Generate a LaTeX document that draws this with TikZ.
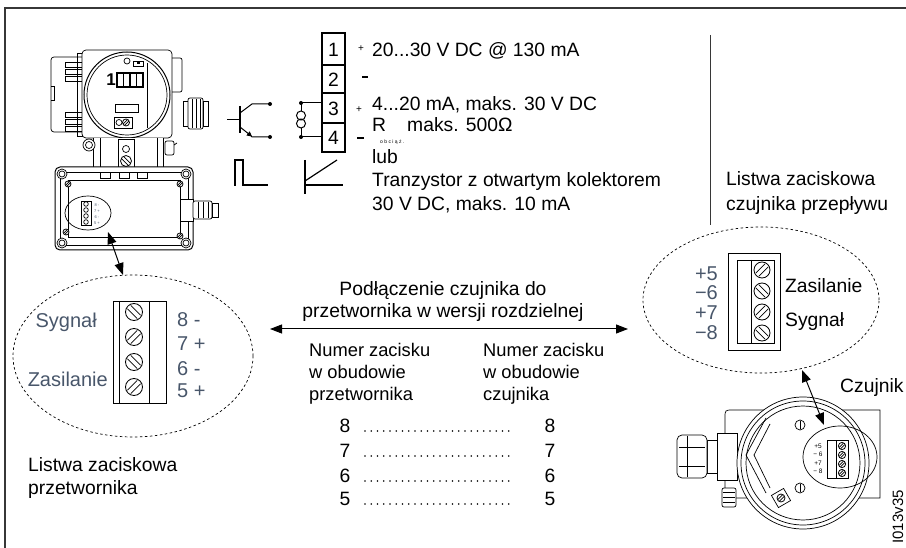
\documentclass[tikz,border=0pt]{standalone}
\usepackage{fontspec}
\setmainfont{Liberation Sans}
\usetikzlibrary{arrows.meta}
\definecolor{slate}{RGB}{72,86,106}
\definecolor{framegray}{RGB}{55,55,55}

\tikzset{
  txt/.style={font=\fontsize{19.3}{22}\selectfont, inner sep=0pt},
  sml/.style={font=\fontsize{18.3}{21}\selectfont, inner sep=0pt},
  slab/.style={font=\fontsize{20}{23}\selectfont, inner sep=0pt, text=slate},
  dev/.style={line width=0.7pt, draw=black},
  sym/.style={line width=2.3pt},
  dashell/.style={dash pattern=on 2.5pt off 2.5pt, line width=0.7pt},
  dblarrow/.style={line width=1pt, {Triangle[length=12pt,width=9pt]}-{Triangle[length=12pt,width=9pt]}},
  leader/.style={line width=1.7pt, dash pattern=on 0pt off 6.25pt, line cap=round},
  pics/screwfw/.style={code={
    \draw[line width=0.8pt, fill=white] (0,0) circle[radius=#1 pt];
    \draw[line width=0.7pt] ({-0.78*#1},{0.38*#1}) -- ({0.38*#1},{-0.78*#1});
    \draw[line width=0.7pt] ({-0.38*#1},{0.78*#1}) -- ({0.78*#1},{-0.38*#1});
  }},
  pics/screwbk/.style={code={
    \draw[line width=0.8pt, fill=white] (0,0) circle[radius=#1 pt];
    \draw[line width=0.7pt] ({0.78*#1},{0.38*#1}) -- ({-0.38*#1},{-0.78*#1});
    \draw[line width=0.7pt] ({0.38*#1},{0.78*#1}) -- ({-0.78*#1},{-0.38*#1});
  }}
}

\begin{document}
\begin{tikzpicture}[x=1pt,y=-1pt]
\useasboundingbox (0,0) rectangle (906,548);

% page frame and separator
\draw[line width=1.2pt, framegray] (5,548) -- (5,8) -- (906,8);
\draw[line width=1pt, framegray] (710,35) -- (710,225);

% ---------------- transmitter (upper housing) ----------------
\draw[dev, rounded corners=3pt] (82,57) -- (51,57) -- (51,132) -- (82,132);
\draw[dev] (51,86) -- (54,86) -- (54,100) -- (51,100);
\foreach \y in {62,69,76,112,119,126} \draw[dev] (65,\y) rectangle (82,\y+5);
\draw[dev] (77,53) rectangle (82,136);
\draw[dev, rounded corners=4pt, fill=white] (82,50) rectangle (172,138);
\draw[dev, line width=1pt] (127,95) circle[radius=43pt];
\draw[dev] (127,95) circle[radius=40pt];
\draw[dev] (147,63) -- (147,128);
\node[font=\fontsize{17}{17}\bfseries\selectfont, inner sep=0pt] (disp) at (111,80) {1};
\foreach \i in {0,...,3} \draw[line width=1.3pt] (117+\i*6.5,73) rectangle (123.5+\i*6.5,87);
\draw[dev] (127,61) circle[radius=3pt];
\draw[dev] (133,61) rectangle (143,66);
\fill (137,62) rectangle (140,64.5);
\draw[dev] (115,104) rectangle (138,112);
\draw[dev] (114,117) rectangle (132,128);
\draw[dev] (119,122.5) circle[radius=3pt];
\pic at (126,122.5) {screwfw=3.5};
\draw[dev, rounded corners=2pt] (172,58) -- (182,58) -- (182,92) -- (172,92);
% cable gland of the upper housing
\draw[dev, fill=white] (183,101) rectangle (188,126);
\draw[dev, fill=white, rounded corners=2pt] (188,98) rectangle (203,129);
\foreach \x in {192,196,200} \draw[dev] (\x,99) -- (\x,128);
\draw[dev, fill=white] (203,101) rectangle (208,126);
% neck
\draw[dev, fill=white] (93,138) -- (93,167) -- (163,167) -- (163,138);
\draw[dev] (100,138) -- (100,167);
\draw[dev] (157,138) -- (157,167);
\draw[dev, fill=white] (89,145) circle[radius=6pt];
\draw[dev] (89,145) circle[radius=3.5pt];
\draw[dev, rounded corners=2pt] (165,141) rectangle (174,155);
\draw[dev] (174,145) -- (177,143);
\draw[dev, fill=white] (118,139) rectangle (134,170);
\draw[dev] (126,149) circle[radius=3.5pt];
\pic at (126,161) {screwbk=5.5};

% ---------------- transmitter (terminal box) ----------------
\draw[dev, line width=1pt, rounded corners=5pt, fill=white] (55,167) rectangle (193,250);
\draw[dev] (60,172) rectangle (188,245);
\draw[dev] (68,180) rectangle (180,237);
\foreach \x in {100,119,137} \draw[dev, fill=white] (\x,172) rectangle (\x+10,178);
\foreach \p in {(62,174),(186,174),(62,243),(186,243)} {
  \draw[dev, fill=white] \p circle[radius=5pt];
  \draw[dev] \p circle[radius=3pt];
}
\pic at (68,184) {screwfw=3};
\pic at (180,184) {screwfw=3};
\pic at (66,232) {screwfw=3};
\pic at (180,236) {screwfw=3};
\draw[dev, fill=white] (180,199) rectangle (193,221);
\draw[dev, fill=white, rounded corners=2pt] (193,201) rectangle (212,219);
\foreach \x in {198,203,208} \draw[dev] (\x,202) -- (\x,218);
\draw[dev, fill=white] (212,203) rectangle (218,217);
% small terminal strip inside the box
\draw[dev] (88,213) ellipse[x radius=23pt, y radius=17pt];
\draw[dev] (81,201) rectangle (91,225);
\foreach \y in {204,210,216,222} \draw[dev] (86,\y) circle[radius=2.3pt];
\foreach \y/\t in {205/8 -,211/7 +,217/6 -,223/5 +}
  \node[font=\fontsize{4}{4}\selectfont, inner sep=0pt, text=slate] at (97,\y) {\t};

% ---------------- output symbols ----------------
\coordinate (tb) at (227,120);
\coordinate (tk) at (240,120);
\coordinate (tc) at (270,104);
\coordinate (te) at (270,137);
\draw[line width=1pt] (tb) -- (tk);
\draw[line width=2pt] (240,106) -- (240,133);
\draw[line width=1pt] (240,113) -- (252,104) -- (tc);
\draw[line width=1pt, -{Triangle[length=5pt,width=5pt]}] (240,127) -- (252,136.5);
\draw[line width=1pt] (251,136) -- (252,137) -- (te);
\fill (tc) circle[radius=2pt];
\fill (te) circle[radius=2pt];

% current source
\coordinate (cs1) at (301,103);
\coordinate (cs2) at (301,137);
\draw[line width=1pt] (cs1) -- (301,111);
\draw[line width=1pt] (301,128) -- (cs2);
\draw[line width=1pt] (301,115.5) circle[radius=4.5pt];
\draw[line width=1pt] (301,123.5) circle[radius=4.5pt];
\fill (cs1) circle[radius=2pt];
\fill (cs2) circle[radius=2pt];

% pulse and analog marks
\draw[sym] (235,186) -- (235,160) -- (243,160) -- (243,185) -- (268,185);
\draw[sym] (305,160) -- (305,194);
\draw[sym] (305,185) -- (343,185);
\draw[line width=1.2pt] (305,181) -- (337,160);

% ---------------- terminal block 1..4 ----------------
\draw[line width=2.5pt] (322,33) rectangle (345,152);
\foreach \y in {65,93,123} \draw[line width=2.5pt] (322,\y) -- (345,\y);
\node[txt] (t1) at (333.5,49.5) {1};
\node[txt] (t2) at (333.5,79.5) {2};
\node[txt] (t3) at (333.5,108.5) {3};
\node[txt] (t4) at (333.5,138) {4};
\draw[line width=1pt] (cs1) -- (322,103);
\draw[line width=1pt] (cs2) -- (322,137);

\node[font=\fontsize{10}{10}\selectfont, inner sep=0pt] (p1) at (361,49) {+};
\node[font=\fontsize{10}{10}\selectfont, inner sep=0pt] (p3) at (359,110) {+};
\draw[line width=2pt] (362,77) -- (368,77);
\draw[line width=2pt] (357,138) -- (364,138);

\node[txt, anchor=base west] (l1) at (372,57) {20...30 V DC @ 130 mA};
\node[txt, anchor=base west] (l3) at (372,111) {4...20 mA, maks. 30 V DC};
\node[txt, anchor=base west] (l4) at (372,132) {R};
\node[font=\fontsize{5}{5}\selectfont, inner sep=0pt, anchor=base west] (l4s) at (380,144) {o b c i ą ż .};
\node[txt, anchor=base west] (l4b) at (407,132) {maks. 500Ω};
\node[txt, anchor=base west] (l5) at (372,164) {lub};
\node[txt, anchor=base west] (l6) at (372,187) {Tranzystor z otwartym kolektorem};
\node[txt, anchor=base west] (l7) at (372,211) {30 V DC, maks. 10 mA};

\node[txt, anchor=base west] (r1) at (726,186) {Listwa zaciskowa};
\node[txt, anchor=base west] (r2) at (726,211) {czujnika przepływu};

% ---------------- transmitter terminal strip (zoomed) ----------------
\draw[dashell] (133,356) ellipse[x radius=120pt, y radius=81pt];
\coordinate (la1) at (108,232);
\coordinate (la2) at (123,275);
\draw[dblarrow] (la1) -- (la2);
\draw[line width=0.8pt] (113,301) rectangle (166,403);
\draw[line width=0.8pt] (119,301) -- (119,403);
\draw[line width=0.8pt] (149,301) -- (149,403);
\pic at (134,312) {screwbk=8.5};
\pic at (134,337) {screwfw=8.5};
\pic at (134,362) {screwbk=8.5};
\pic at (134,387) {screwfw=8.5};
\node[slab, anchor=base west] (n8) at (177,327) {8 -};
\node[slab, anchor=base west] (n7) at (177,351) {7 +};
\node[slab, anchor=base west] (n6) at (177,375) {6 -};
\node[slab, anchor=base west] (n5) at (177,398) {5 +};
\node[slab, anchor=base east] (sy1) at (97,328) {Sygnał};
\node[slab, anchor=base east] (za1) at (108,386) {Zasilanie};
\node[txt, anchor=base west] (lz1) at (28,471) {Listwa zaciskowa};
\node[txt, anchor=base west] (lz2) at (28,494) {przetwornika};

% ---------------- wiring table ----------------
\node[txt, anchor=base] (h1) at (443,296) {Podłączenie czujnika do};
\node[txt, anchor=base] (h2) at (443,318) {przetwornika w wersji rozdzielnej};
\coordinate (cL) at (270,329);
\coordinate (cR) at (628,329);
\draw[dblarrow] (cL) -- (cR);
\node[sml, anchor=base west] (a1) at (309,357) {Numer zacisku};
\node[sml, anchor=base west] (a2) at (309,378) {w obudowie};
\node[sml, anchor=base west] (a3) at (309,400) {przetwornika};
\node[sml, anchor=base west] (b1) at (483,357) {Numer zacisku};
\node[sml, anchor=base west] (b2) at (483,378) {w obudowie};
\node[sml, anchor=base west] (b3) at (483,400) {czujnika};
\foreach \n/\y in {8/432,7/457,6/482,5/505} {
  \node[txt, anchor=base] (w\n) at (345,\y) {\n};
  \node[txt, anchor=base] (s\n) at (550,\y) {\n};
  \draw[leader] (365,\y-1) -- (514,\y-1);
}

% ---------------- sensor terminal strip (zoomed) ----------------
\draw[dashell] (761,300) ellipse[x radius=118pt, y radius=73pt];
\draw[line width=0.8pt] (728,253) rectangle (780,350);
\draw[line width=0.8pt] (737,260) rectangle (774,343);
\draw[line width=0.8pt] (751,260) -- (751,343);
\pic at (762,270) {screwfw=8};
\pic at (762,291) {screwbk=8};
\pic at (762,312) {screwfw=8};
\pic at (762,333) {screwbk=8};
\node[slab, anchor=base east, font=\fontsize{20}{20}\selectfont] (q5) at (718,281) {+5};
\node[slab, anchor=base east, font=\fontsize{20}{20}\selectfont] (q6) at (718,300) {−6};
\node[slab, anchor=base east, font=\fontsize{20}{20}\selectfont] (q7) at (718,320) {+7};
\node[slab, anchor=base east, font=\fontsize{20}{20}\selectfont] (q8) at (718,340) {−8};
\node[txt, anchor=base west] (za2) at (785,293) {Zasilanie};
\node[txt, anchor=base west] (sy2) at (785,327) {Sygnał};
\coordinate (ra1) at (802,370);
\coordinate (ra2) at (824,425);
\node[txt, anchor=base west] (cz) at (840,392) {Czujnik};

% ---------------- sensor housing ----------------
\draw[dev, fill=white] (725,498) -- (725,418) .. controls (725,410) .. (733,410) -- (880,410) -- (880,498) -- cycle;
\draw[dev, fill=white] (717,433) rectangle (737,480);
\draw[dev, fill=white] (707,440) rectangle (717,473);
\draw[dev, fill=white, rounded corners=5pt] (677,435) rectangle (707,478);
\draw[dev] (679,447) -- (705,447);
\draw[dev] (679,466) -- (705,466);
\draw[dev] (687,436) -- (687,477);
\draw[dev, fill=white] (803,463) circle[radius=66pt];
\draw[dev] (803,463) circle[radius=62pt];
\draw[dev] (803,463) circle[radius=57pt];
\draw[dev] (766,418) -- (746,455) -- (766,493);
\draw[dev] (770,424) -- (754,455) -- (770,488);
\draw[dev, fill=white] (800,425) circle[radius=5pt];
\draw[dev] (800,421) -- (800,429);
\draw[dev, fill=white] (800,488) circle[radius=5pt];
\draw[dev] (800,484) -- (800,492);
\draw[dev, fill=white, rotate around={30:(781,498)}] (774,491) rectangle (788,505);
\pic at (781,498) {screwfw=4};
\draw[dev, fill=white, rounded corners=2pt] (722,488) rectangle (736,507);
\foreach \y in {492,497,502} \draw[dev] (723,\y) -- (735,\y);
\draw[dev] (840,457) ellipse[x radius=37pt, y radius=31pt];
\draw[dev, fill=white] (827,440) rectangle (848,478);
\draw[dev] (836,440) -- (836,478);
\foreach \y in {446,455,464,473} \pic at (842,\y) {screwfw=3.6};
\foreach \y/\t in {446/+5,454/− 6,463/+7,471/− 8}
  \node[font=\fontsize{6.5}{6.5}\selectfont, inner sep=0pt] at (818,\y) {\t};
\draw[dblarrow] (ra1) -- (ra2);

\node[font=\fontsize{15}{15}\selectfont, inner sep=0pt, rotate=90, anchor=base east] (ref) at (903,490) {I013v35};
\end{tikzpicture}
\end{document}
